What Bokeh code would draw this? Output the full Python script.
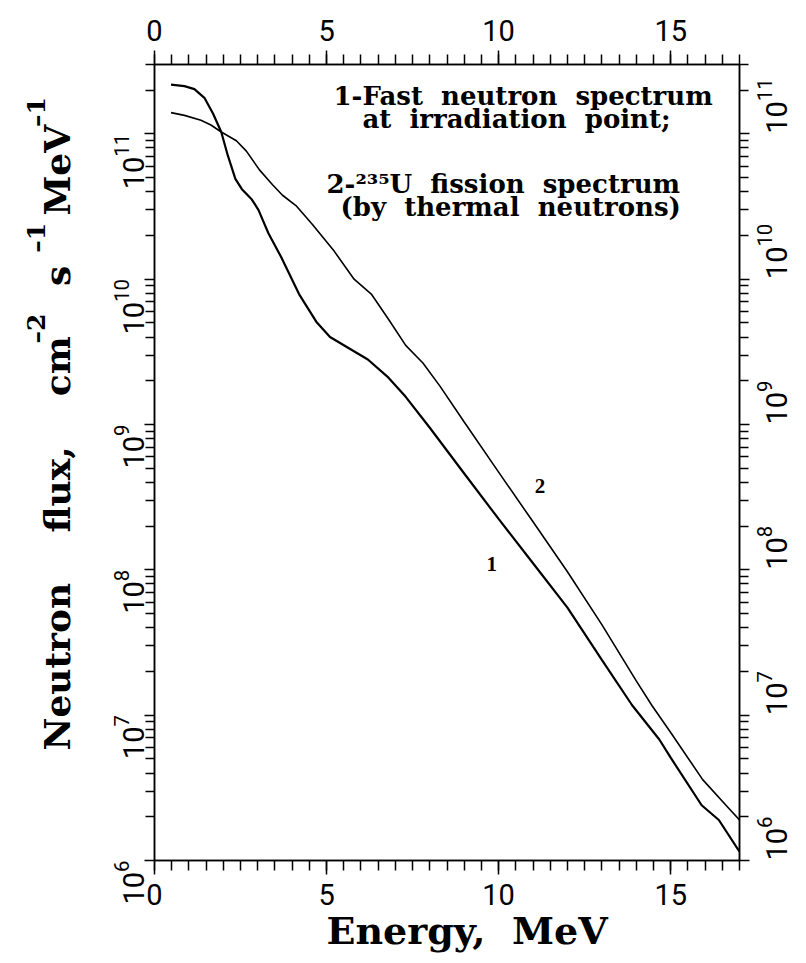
import numpy as np
from bokeh.plotting import figure
from bokeh.models import LogAxis, LinearAxis, FixedTicker, Label, Range1d, Title
from bokeh.embed import file_html
from bokeh.resources import INLINE

# ---------------- data ----------------
# curve 1: fast neutron spectrum at irradiation point
energy_1 = [0.48, 0.87, 1.16, 1.45, 1.70, 1.94, 2.13, 2.35, 2.54, 2.83, 3.02, 3.31,
            3.68, 4.2, 4.7, 5.1, 5.6, 6.2, 6.8, 7.3, 8.0, 9.0, 10.0, 11.0, 12.0,
            13.0, 13.88, 14.67, 15.0, 15.9, 16.4, 17.0]
flux_1 = [2.18e11, 2.13e11, 2.03e11, 1.77e11, 1.38e11, 1.03e11, 7.1e10, 4.9e10,
          4.16e10, 3.53e10, 3.0e10, 2.07e10, 1.42e10, 7.9e9, 5.1e9, 4.0e9, 3.4e9,
          2.8e9, 2.1e9, 1.55e9, 9.5e8, 4.6e8, 2.24e8, 1.11e8, 5.5e7, 2.4e7,
          1.17e7, 6.8e6, 5.1e6, 2.4e6, 1.9e6, 1.15e6]

# curve 2: 235U fission spectrum (thermal neutrons)
energy_2 = [0.48, 0.87, 1.35, 1.64, 1.94, 2.38, 2.67, 3.05, 3.43, 3.72, 4.11, 4.59,
            5.22, 5.8, 6.3, 6.8, 7.3, 7.8, 8.3, 9.0, 10.0, 11.0, 12.0, 13.0, 14.0,
            14.46, 15.0, 15.93, 16.68, 17.0]
flux_2 = [1.40e11, 1.34e11, 1.24e11, 1.15e11, 1.03e11, 8.97e10, 7.6e10, 5.65e10,
          4.46e10, 3.78e10, 3.21e10, 2.38e10, 1.56e10, 1.0e10, 7.9e9, 5.3e9, 3.5e9,
          2.65e9, 1.83e9, 1.04e9, 4.7e8, 2.14e8, 9.7e7, 4.2e7, 1.72e7, 1.16e7,
          7.6e6, 3.6e6, 2.3e6, 1.9e6]

# curve number labels (energy, flux)
curve_label_text = ["1", "2"]
curve_label_x = [9.8, 11.2]
curve_label_y = [1.1e8, 3.8e8]

x_major_ticks = [0, 5, 10, 15]
x_minor_ticks = [0.5 * i for i in range(35)]
y_major_ticks = [1e6, 1e7, 1e8, 1e9, 1e10, 1e11]
y_minor_ticks = [m * 10.0 ** d for d in range(6, 12) for m in range(2, 10)]

NB = "\u00a0"
legend_lines = ["1-Fast" + NB * 2 + "neutron" + NB * 2 + "spectrum",
                "at" + NB * 2 + "irradiation" + NB * 2 + "point;",
                "2-\u00b2\u00b3\u2075U" + NB * 2 + "fission" + NB * 2 + "spectrum",
                "(by" + NB * 2 + "thermal" + NB * 2 + "neutrons)"]
x_title = "Energy," + NB * 2 + "MeV"
y_title_main = "Neutron" + NB * 4 + "flux," + NB * 4 + "cm" + NB * 4 + "s" + NB * 4 + "MeV"
y_title_sup = "\u20132" + NB * 7 + "\u20131" + NB * 11 + "\u20131"

# ---------------- layout ----------------
FL, FR, FT, FB = 154, 739, 64, 860
W, H = 806, 963

p = figure(width=W, height=H, y_axis_type="log",
           x_range=Range1d(0, 17), y_range=Range1d(1e6, 3e11),
           output_backend="svg", toolbar_location=None,
           min_border_left=FL, min_border_right=W - FR,
           min_border_top=FT, min_border_bottom=H - FB)
p.xgrid.visible = False
p.ygrid.visible = False
p.outline_line_color = "black"
p.outline_line_width = 1.5
p.background_fill_color = "white"
p.border_fill_color = "white"

TICK_FONT = "Roboto"

def style_common(ax):
    ax.axis_line_width = 1.5
    ax.major_tick_line_width = 1.5
    ax.minor_tick_line_width = 1.5
    ax.major_tick_in = 0
    ax.minor_tick_in = 0
    ax.major_label_text_font = TICK_FONT
    ax.major_label_text_font_size = "29px"
    ax.major_label_text_color = "black"

def style_x(ax, standoff):
    style_common(ax)
    ax.ticker = FixedTicker(ticks=x_major_ticks, minor_ticks=x_minor_ticks)
    ax.major_tick_out = 14
    ax.minor_tick_out = 10
    ax.major_label_standoff = standoff

def style_y(ax, standoff):
    style_common(ax)
    ax.ticker = FixedTicker(ticks=y_major_ticks, minor_ticks=y_minor_ticks)
    ax.major_tick_out = 10
    ax.minor_tick_out = 9
    ax.major_label_orientation = np.pi / 2
    ax.major_label_standoff = standoff

style_x(p.xaxis[0], 9)
style_y(p.yaxis[0], 16)
# blank spacer label to push the axis title outwards
p.yaxis[0].axis_label = NB
p.yaxis[0].axis_label_text_font_size = "10px"
p.yaxis[0].axis_label_standoff = 3
top_ax = LinearAxis()
style_x(top_ax, 10)
p.add_layout(top_ax, "above")
right_ax = LogAxis()
style_y(right_ax, 22)
p.add_layout(right_ax, "right")

# ---------------- curves ----------------
p.line(energy_1, flux_1, line_color="black", line_width=2.2)
p.line(energy_2, flux_2, line_color="black", line_width=1.6)

p.text(curve_label_x, curve_label_y, text=curve_label_text,
       text_font="DejaVu Serif", text_font_style="bold", text_font_size="21px",
       text_align="center", text_baseline="middle", text_color="black")

# ---------------- annotation block ----------------
SERIF = "DejaVu Serif"
legend_pos = [(333, 95), (362, 118), (326, 183), (340, 206)]
for txt, (px, py) in zip(legend_lines, legend_pos):
    p.add_layout(Label(x=px - FL, y=FB - py, x_units="screen", y_units="screen",
                       text=txt, text_font=SERIF, text_font_style="bold",
                       text_font_size="26px", text_color="black",
                       text_align="left", text_baseline="alphabetic"))

# ---------------- axis titles ----------------
p.add_layout(Title(text=x_title, align="left", offset=326 - FL, vertical_align="top",
                   text_font=SERIF, text_font_style="bold", text_font_size="38px",
                   text_color="black", standoff=0), "below")
p.add_layout(Title(text=y_title_main, align="left", offset=FB - 750,
                   vertical_align="bottom", text_font=SERIF, text_font_style="bold",
                   text_font_size="36px", text_color="black", standoff=0), "left")
p.add_layout(Title(text=y_title_sup, align="left", offset=FB - 343,
                   vertical_align="bottom", text_font=SERIF, text_font_style="bold",
                   text_font_size="25px", text_color="black", standoff=-34), "left")

open("out.html", "w").write(file_html(p, INLINE))
